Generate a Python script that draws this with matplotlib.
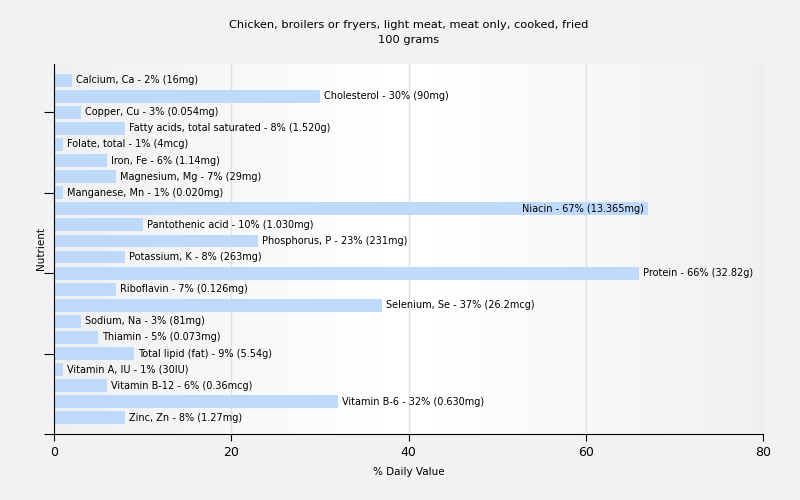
import matplotlib
matplotlib.use('Agg')
import matplotlib.pyplot as plt
import numpy as np

nutrients = ['Calcium, Ca', 'Cholesterol', 'Copper, Cu', 'Fatty acids, total saturated',
             'Folate, total', 'Iron, Fe', 'Magnesium, Mg', 'Manganese, Mn', 'Niacin',
             'Pantothenic acid', 'Phosphorus, P', 'Potassium, K', 'Protein', 'Riboflavin',
             'Selenium, Se', 'Sodium, Na', 'Thiamin', 'Total lipid (fat)', 'Vitamin A, IU',
             'Vitamin B-12', 'Vitamin B-6', 'Zinc, Zn']
daily_pct = [2, 30, 3, 8, 1, 6, 7, 1, 67, 10, 23, 8, 66, 7, 37, 3, 5, 9, 1, 6, 32, 8]
amounts = ['16mg', '90mg', '0.054mg', '1.520g', '4mcg', '1.14mg', '29mg', '0.020mg',
           '13.365mg', '1.030mg', '231mg', '263mg', '32.82g', '0.126mg', '26.2mcg',
           '81mg', '0.073mg', '5.54g', '30IU', '0.36mcg', '0.630mg', '1.27mg']

plt.rcParams['font.family'] = ['DejaVu Sans']

fig = plt.figure(figsize=(8, 5), dpi=100, facecolor='#f2f2f2')
ax = fig.add_axes([0.0675, 0.132, 0.8865, 0.74])

# Horizontal gradient for the plot background.
grad = np.concatenate([np.linspace(0.94, 1.0, 50), np.linspace(1.0, 0.94, 50)])
grad = np.vstack([grad, grad])
ax.imshow(grad, cmap='gray', vmin=0, vmax=1, aspect='auto', extent=[0, 1, 0, 1],
          transform=ax.transAxes, zorder=0)

n = len(nutrients)
ypos = np.arange(n, 0, -1)
ax.barh(ypos, daily_pct, height=0.8, color='#bfd9fb', zorder=2)

ax.set_xlim(0, 80)
ax.set_ylim(0, n + 1)

# Put labels after the bar, or inside it when they would run past the axis.
renderer = fig.canvas.get_renderer()
ax_right = ax.get_window_extent(renderer).x1
for y, v, name, amt in zip(ypos, daily_pct, nutrients, amounts):
    label = '%s - %d%% (%s)' % (name, v, amt)
    t = ax.annotate(label, (v, y), xytext=(3, 0), textcoords='offset points',
                    ha='left', va='center', fontsize=7, zorder=3)
    if t.get_window_extent(renderer).x1 > ax_right:
        t.remove()
        ax.annotate(label, (v, y), xytext=(-3, 0), textcoords='offset points',
                    ha='right', va='center', fontsize=7, zorder=3)

ax.set_xticks([0, 20, 40, 60, 80])
ax.set_yticks([0, 5, 10, 15, 20])
ax.set_yticklabels([])
ax.tick_params(axis='y', length=7, direction='out')
ax.tick_params(axis='x', length=5, labelsize=9)
ax.grid(axis='x', color='#e0e0e0', linewidth=1, zorder=1)
ax.set_axisbelow(True)

for s in ['top', 'right']:
    ax.spines[s].set_visible(False)

ax.set_xlabel('% Daily Value', fontsize=7.5, labelpad=6)
ax.set_ylabel('Nutrient', fontsize=7.5, labelpad=-5)
ax.set_title('Chicken, broilers or fryers, light meat, meat only, cooked, fried\n100 grams',
             fontsize=8.2, pad=15, linespacing=1.6)

fig.savefig('out.png', dpi=100, facecolor=fig.get_facecolor())
